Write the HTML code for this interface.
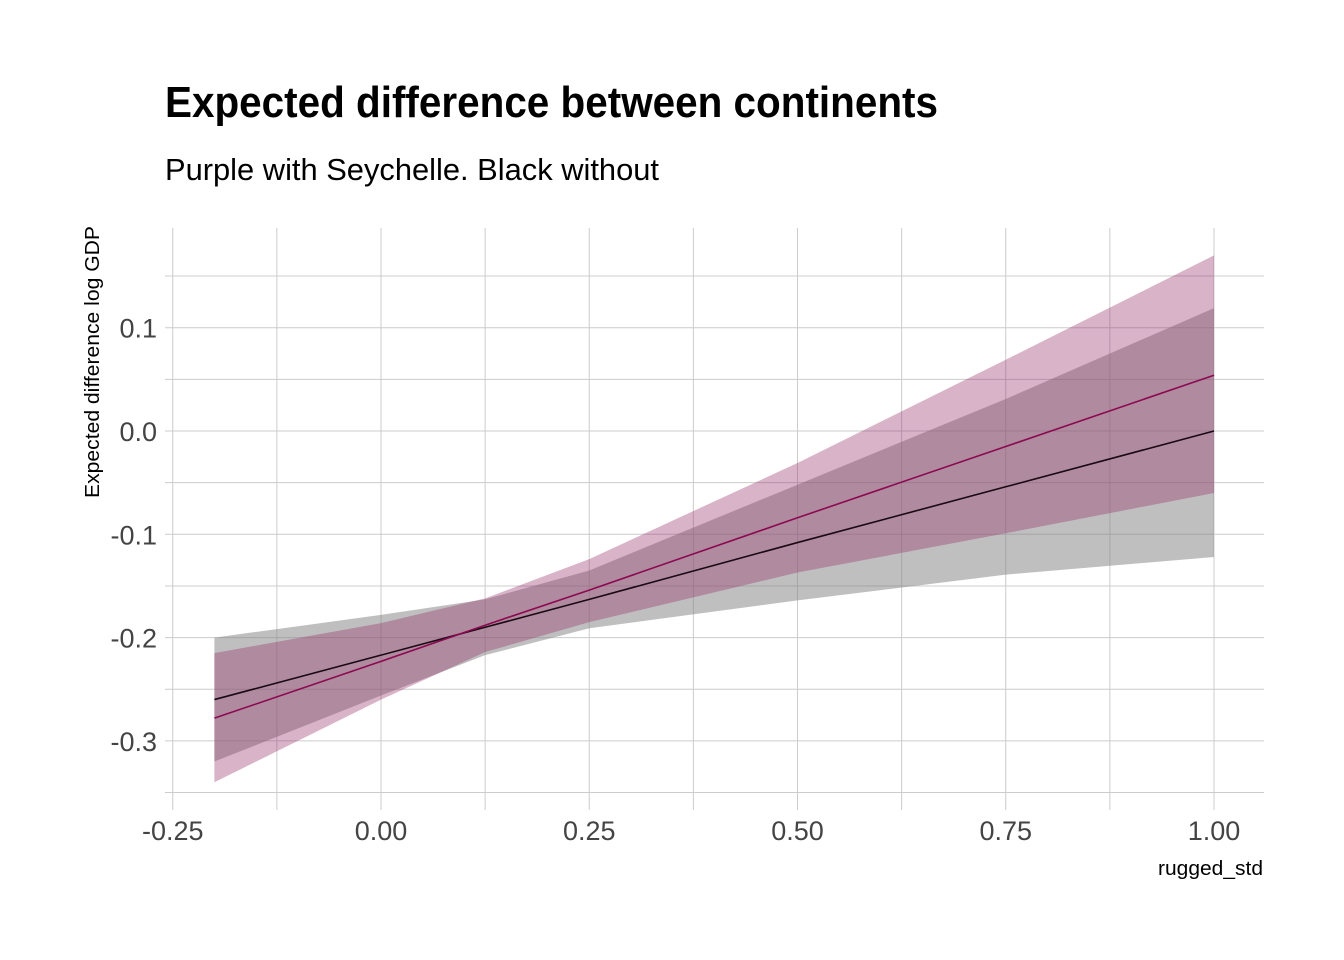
<!DOCTYPE html>
<html><head><meta charset="utf-8"><style>body{margin:0;background:#fff}svg{display:block}text{font-family:"Liberation Sans",sans-serif}</style></head>
<body>
<svg id="chart" width="1344" height="960" xmlns="http://www.w3.org/2000/svg">
<rect width="1344" height="960" fill="#fff"/>
<text x="165" y="117" font-size="44" font-weight="bold" textLength="773" lengthAdjust="spacingAndGlyphs">Expected difference between continents</text>
<text x="165" y="180" font-size="31" textLength="494" lengthAdjust="spacingAndGlyphs">Purple with Seychelle. Black without</text>
<g id="grid"></g>
<g id="bands"></g>
<g id="lines"></g>
<g id="axes"></g>
<text transform="translate(99,362) rotate(-90)" text-anchor="middle" font-size="20" textLength="272" lengthAdjust="spacingAndGlyphs">Expected difference log GDP</text>
<text x="1263" y="875" text-anchor="end" font-size="20" textLength="105" lengthAdjust="spacingAndGlyphs">rugged_std</text>
</svg>
<script>
const xs = [-0.2, 0, 0.125, 0.25, 0.5, 0.75, 1.0];
const purpleMid = [-0.278,-0.223,-0.188,-0.154,-0.084,-0.015,0.054];
const purpleLo = [-0.340,-0.260,-0.214,-0.185,-0.137,-0.099,-0.060];
const purpleHi = [-0.215,-0.186,-0.162,-0.124,-0.031,0.069,0.170];
const grayMid = [-0.260,-0.217,-0.190,-0.163,-0.108,-0.054,0.000];
const grayLo = [-0.320,-0.256,-0.217,-0.191,-0.164,-0.139,-0.122];
const grayHi = [-0.200,-0.178,-0.163,-0.135,-0.052,0.031,0.119];
const xTicks = [-0.25, 0, 0.25, 0.5, 0.75, 1.0];
const xTickLabels = ["-0.25","0.00","0.25","0.50","0.75","1.00"];
const yTicks = [0.1, 0.0, -0.1, -0.2, -0.3];
const yTickLabels = ["0.1","0.0","-0.1","-0.2","-0.3"];

const NS="http://www.w3.org/2000/svg";
const sx = v => 381 + v*833;
const sy = v => 431 - v*1033;
const L = 165, R = 1264, T = 228, B = 810;
function mk(tag, attrs, parent){const e=document.createElementNS(NS,tag);for(const k in attrs)e.setAttribute(k,attrs[k]);parent.appendChild(e);return e;}
const grid=document.getElementById('grid');
for(let v=-0.25; v<=1.0001; v+=0.125){
  const l=mk('line',{x1:sx(v),x2:sx(v),y1:T,y2:B,stroke:'#cccccc','stroke-width':1},grid);
  
  
}
for(let v=-0.35; v<=0.1501; v+=0.05){
  const y=sy(v); if(y<T||y>B) continue;
  const l=mk('line',{x1:L,x2:R,y1:y,y2:y,stroke:'#cccccc','stroke-width':1},grid);
  
  
}
function band(lo,hi,fill,name){
  let d='M'+xs.map((x,i)=>sx(x)+','+sy(hi[i])).join('L');
  d+='L'+xs.map((x,i)=>sx(x)+','+sy(lo[i])).reverse().join('L')+'Z';
  const p=mk('path',{d:d,fill:fill},document.getElementById('bands'));
  
  
}
band(grayLo,grayHi,'rgba(128,128,128,0.5)','band-without-seychelles');
band(purpleLo,purpleHi,'rgba(150,44,102,0.36)','band-with-seychelles');
function line(m,col,name){
  const p=mk('polyline',{points:xs.map((x,i)=>sx(x)+','+sy(m[i])).join(' '),fill:'none',stroke:col,'stroke-width':1.6},document.getElementById('lines'));
  
  
}
line(grayMid,'#1a0a14','line-without-seychelles');
line(purpleMid,'#8b0a50','line-with-seychelles');
const axes=document.getElementById('axes');
xTicks.forEach((v,i)=>{
  const t=mk('text',{x:sx(v),y:840,'text-anchor':'middle','font-size':27,fill:'#444'},axes);
  t.textContent=xTickLabels[i];
  
  
});
yTicks.forEach((v,i)=>{
  const t=mk('text',{x:157,y:sy(v)+10,'text-anchor':'end','font-size':27,fill:'#444'},axes);
  t.textContent=yTickLabels[i];
  
  
});
</script>
</body></html>
